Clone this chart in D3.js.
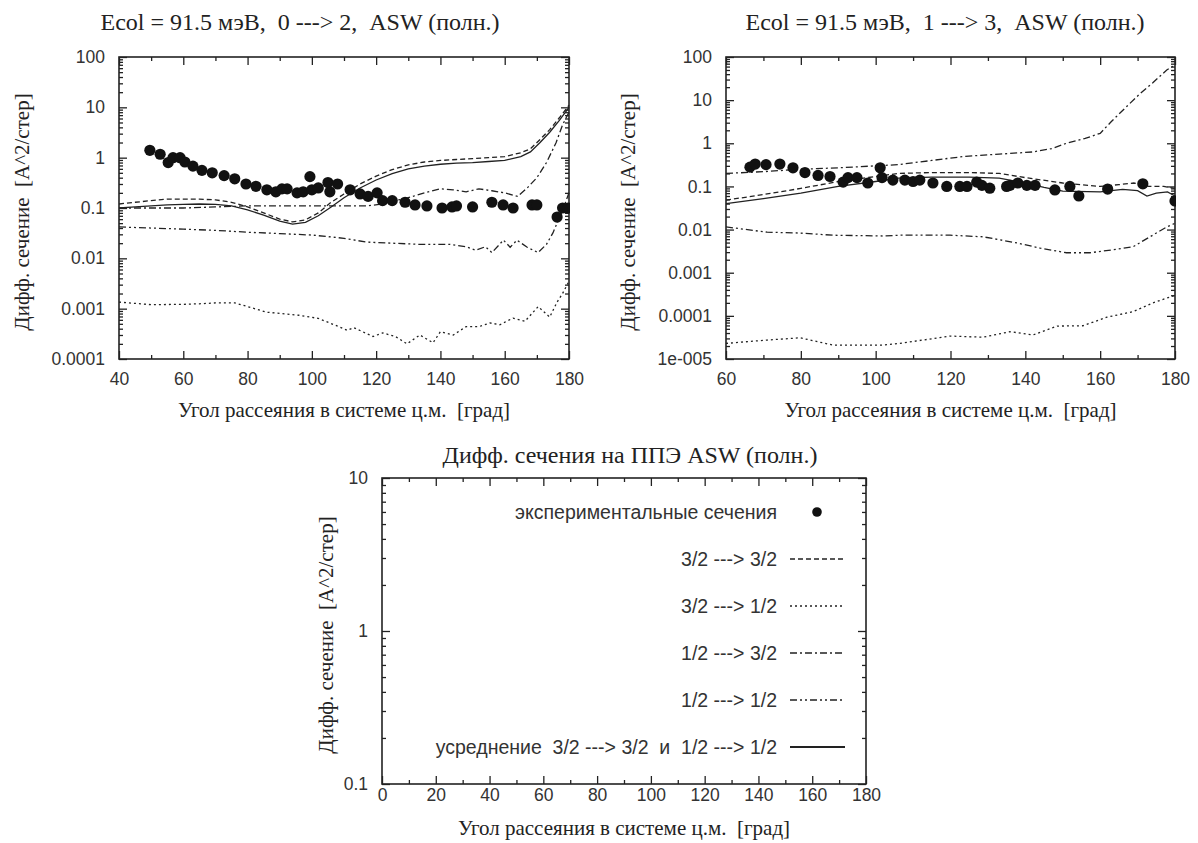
<!DOCTYPE html>
<html>
<head>
<meta charset="utf-8">
<script src="https://cdn.jsdelivr.net/npm/d3@7"></script>
<style>
  body { margin: 0; background: #fff; }
  text { white-space: pre; }
  .tick text { font-family: "Liberation Sans", Arial, sans-serif; font-size: 17.5px; fill: #333; }
  .tick line { stroke: #222; }
  .domain { display: none; }
  .serif { font-family: "Liberation Serif", "Times New Roman", serif; fill: #222; }
</style>
</head>
<body>
<div id="viz"></div>
<script>
// ---------- data: panel 1 (0 ---> 2), x 40..180 ----------
var p1Title = "Ecol = 91.5 мэВ,  0 ---> 2,  ASW (полн.)";
var p1XTicks = [40, 60, 80, 100, 120, 140, 160, 180];
var p1YTicks = [0.0001, 0.001, 0.01, 0.1, 1, 10, 100];
var p1YLabels = ["0.0001", "0.001", "0.01", "0.1", "1", "10", "100"];
var p1Exp = [[49.6,1.4],[52.8,1.17],[55.3,0.8],[56.8,1.0],[59,1.0],[60.5,0.82],[63,0.68],[65.8,0.56],[69,0.5],
  [72.7,0.44],[76,0.38],[79.5,0.3],[82.6,0.27],[86,0.23],[88.8,0.21],[90.7,0.24],[92.3,0.24],[95.4,0.2],
  [97.3,0.21],[99.4,0.42],[100,0.23],[102,0.25],[105,0.32],[105.6,0.21],[108,0.3],[111.9,0.23],[115,0.19],
  [117.5,0.17],[120.3,0.2],[122,0.14],[125,0.14],[129,0.13],[132.1,0.115],[135.8,0.11],[140.5,0.1],
  [143.6,0.105],[145,0.11],[150,0.105],[156,0.13],[159.5,0.115],[162.6,0.1],[168.5,0.115],[170,0.115],
  [176.3,0.066],[178,0.1],[179.7,0.1]];
var p1_32_32 = [[40,0.12],[45,0.13],[50,0.14],[55,0.15],[60,0.15],[65,0.15],[70,0.145],[75,0.13],[80,0.105],
  [85,0.08],[90,0.06],[94,0.053],[98,0.058],[102,0.08],[106,0.13],[110,0.19],[115,0.3],[120,0.43],[125,0.58],
  [130,0.72],[135,0.82],[140,0.88],[145,0.92],[150,0.96],[155,1.0],[160,1.05],[165,1.25],[168,1.5],[171,2.3],
  [174,3.6],[177,6.2],[180,11]];
var p1_32_12 = [[40,0.00135],[50,0.0012],[60,0.00122],[65,0.00125],[70,0.0013],[76,0.0013],[80,0.0011],[86,0.00085],
  [96,0.00074],[102,0.00064],[108,0.00045],[111,0.00037],[113,0.00042],[119,0.00028],[122,0.00033],[126,0.00028],
  [129.6,0.0002],[133.6,0.0003],[137.7,0.00021],[140,0.00035],[144,0.0003],[148,0.00044],[152,0.00044],
  [155.4,0.00052],[158.5,0.00048],[162.6,0.00065],[166.3,0.00056],[170.4,0.0011],[174,0.00068],[176.3,0.00135],
  [178,0.002],[180,0.0035]];
var p1_12_32 = [[40,0.1],[50,0.1],[60,0.1],[70,0.105],[80,0.11],[90,0.11],[100,0.11],[110,0.11],[117,0.11],
  [122,0.12],[126,0.14],[130,0.16],[135,0.2],[140,0.24],[144,0.23],[148,0.21],[152,0.24],[156,0.22],[160,0.2],
  [164,0.17],[167,0.25],[170,0.4],[173,0.8],[176,2],[178,4.5],[180,8]];
var p1_12_12 = [[40,0.042],[50,0.04],[60,0.038],[70,0.036],[80,0.033],[90,0.031],[100,0.029],[110,0.025],
  [117,0.021],[125,0.02],[133,0.019],[143,0.019],[148,0.017],[151,0.0145],[154,0.017],[156,0.013],[159.6,0.023],
  [161.7,0.0166],[163.8,0.023],[167,0.0166],[170.4,0.013],[173,0.019],[175,0.032],[178,0.09],[180,0.2]];
var p1Avg = [[40,0.1],[45,0.105],[50,0.11],[55,0.115],[60,0.118],[65,0.12],[70,0.118],[75,0.11],[80,0.092],
  [85,0.072],[90,0.055],[94,0.048],[98,0.052],[102,0.07],[106,0.105],[110,0.16],[115,0.25],[120,0.36],[125,0.48],
  [130,0.6],[135,0.68],[140,0.74],[145,0.78],[150,0.8],[155,0.84],[160,0.88],[165,1.05],[168,1.3],[171,2.0],
  [174,3.2],[177,5.5],[180,10]];

// ---------- data: panel 2 (1 ---> 3), x 60..180 ----------
var p2Title = "Ecol = 91.5 мэВ,  1 ---> 3,  ASW (полн.)";
var p2XTicks = [60, 80, 100, 120, 140, 160, 180];
var p2YTicks = [0.00001, 0.0001, 0.001, 0.01, 0.1, 1, 10, 100];
var p2YLabels = ["1e-005", "0.0001", "0.001", "0.01", "0.1", "1", "10", "100"];
var p2Exp = [[66.4,0.28],[67.8,0.33],[70.7,0.32],[74.4,0.33],[77.9,0.27],[81.1,0.21],[84.6,0.18],[87.8,0.17],
  [91.3,0.126],[92.6,0.16],[95,0.16],[97.9,0.12],[101.2,0.27],[101.7,0.16],[104.6,0.14],[107.8,0.14],[110,0.13],
  [111.8,0.14],[115.3,0.12],[119,0.1],[122.5,0.1],[124.4,0.1],[127,0.126],[128.4,0.106],[130.5,0.091],[135,0.1],
  [135.9,0.106],[138,0.12],[140.4,0.106],[142.6,0.106],[147.9,0.083],[151.9,0.1],[154.3,0.06],[162,0.087],
  [171.4,0.115],[180,0.046]];
var p2_32_32 = [[60,0.048],[70,0.065],[80,0.09],[90,0.13],[100,0.17],[106,0.2],[115,0.21],[125,0.21],[133,0.2],
  [140,0.16],[150,0.12],[160,0.1],[165,0.11],[169,0.12],[173,0.1],[177,0.1],[180,0.09]];
var p2_32_12 = [[60,2.3e-5],[71,2.75e-5],[79.8,3.1e-5],[88.6,2.1e-5],[102,2.1e-5],[106.5,2.3e-5],[119.9,3.4e-5],
  [128.7,3.2e-5],[135.9,4.3e-5],[142,3.6e-5],[148.5,5.8e-5],[155.4,5.9e-5],[161.8,9.3e-5],[168.8,1.25e-4],
  [174.1,2e-4],[180,3e-4]];
var p2_12_32 = [[60,0.2],[70,0.22],[80,0.25],[90,0.27],[100,0.3],[106,0.32],[115,0.4],[124,0.5],[133,0.56],
  [142,0.63],[147,0.75],[151,1.0],[156,1.3],[160,1.7],[163,3.2],[167,7],[170.6,14],[174,25],[177.8,50],[180,65]];
var p2_12_12 = [[60,0.0115],[71,0.0087],[79.8,0.0083],[88.6,0.0074],[102,0.0071],[106.5,0.0074],[119.9,0.0074],
  [128.7,0.0068],[137.8,0.0049],[144,0.0037],[151,0.0029],[157.3,0.0029],[163.4,0.0034],[168.8,0.004],
  [173.3,0.0068],[177.8,0.0115],[180,0.014]];
var p2Avg = [[60,0.04],[70,0.052],[80,0.07],[90,0.1],[100,0.13],[106,0.155],[115,0.165],[125,0.165],[133,0.155],
  [140,0.12],[145,0.095],[150,0.078],[160,0.075],[166,0.085],[170,0.08],[172.5,0.06],[175,0.07],[178,0.075],[180,0.06]];

// ---------- panel 3 (legend only) ----------
var p3Title = "Дифф. сечения на ППЭ ASW (полн.)";
var p3XTicks = [0, 20, 40, 60, 80, 100, 120, 140, 160, 180];
var p3YTicks = [0.1, 1, 10];
var p3YLabels = ["0.1", "1", "10"];
var legendLabels = ["экспериментальные сечения", "3/2 ---> 3/2", "3/2 ---> 1/2", "1/2 ---> 3/2",
  "1/2 ---> 1/2", "усреднение  3/2 ---> 3/2  и  1/2 ---> 1/2"];

var xLabel = "Угол рассеяния в системе ц.м.  [град]";
var yLabel = "Дифф. сечение  [A^2/стер]";

var styles = {
  s32_32: "5,3",
  s32_12: "2,3",
  s12_32: "7,3,2,3",
  s12_12: "7,3,2,3,2,3",
  avg: null
};

var svg = d3.select("#viz").append("svg").attr("width", 1198).attr("height", 843);

function panel(cfg) {
  var x = d3.scaleLinear().domain(cfg.xdom).range([cfg.left, cfg.right]);
  var y = d3.scaleLog().domain(cfg.ydom).range([cfg.bottom, cfg.top]);
  var g = svg.append("g");

  // minor / major ticks, all four sides, pointing inward
  var minorX = d3.range(cfg.xdom[0] + 10, cfg.xdom[1], 20);
  var minorY = [];
  cfg.yticks.slice(0, -1).forEach(function (v) {
    for (var k = 2; k < 10; k++) minorY.push(v * k);
  });
  var fmt = function (d, i) { return cfg.ylabels[i]; };

  g.append("g").attr("transform", "translate(0," + cfg.bottom + ")")
    .call(d3.axisBottom(x).tickValues(cfg.xticks).tickSize(-8).tickPadding(cfg.xpad).tickFormat(d3.format("d")));
  g.append("g").attr("transform", "translate(0," + cfg.bottom + ")")
    .call(d3.axisBottom(x).tickValues(minorX).tickSize(-4).tickFormat(""));
  g.append("g").attr("transform", "translate(0," + cfg.top + ")")
    .call(d3.axisTop(x).tickValues(cfg.xticks).tickSize(-8).tickFormat(""));
  g.append("g").attr("transform", "translate(0," + cfg.top + ")")
    .call(d3.axisTop(x).tickValues(minorX).tickSize(-4).tickFormat(""));
  g.append("g").attr("transform", "translate(" + cfg.left + ",0)")
    .call(d3.axisLeft(y).tickValues(cfg.yticks).tickSize(-8).tickPadding(14).tickFormat(fmt));
  g.append("g").attr("transform", "translate(" + cfg.left + ",0)")
    .call(d3.axisLeft(y).tickValues(minorY).tickSize(-4).tickFormat(""));
  g.append("g").attr("transform", "translate(" + cfg.right + ",0)")
    .call(d3.axisRight(y).tickValues(cfg.yticks).tickSize(-8).tickFormat(""));
  g.append("g").attr("transform", "translate(" + cfg.right + ",0)")
    .call(d3.axisRight(y).tickValues(minorY).tickSize(-4).tickFormat(""));
  g.selectAll(".tick line").attr("stroke-width", 1.3);

  g.append("rect")
    .attr("x", cfg.left).attr("y", cfg.top)
    .attr("width", cfg.right - cfg.left).attr("height", cfg.bottom - cfg.top)
    .attr("fill", "none").attr("stroke", "#222").attr("stroke-width", 1.6);

  var clipId = "clip" + cfg.id;
  svg.append("clipPath").attr("id", clipId).append("rect")
    .attr("x", cfg.left).attr("y", cfg.top - 2)
    .attr("width", cfg.right - cfg.left + 1).attr("height", cfg.bottom - cfg.top + 2);

  var line = d3.line()
    .x(function (d) { return x(d[0]); })
    .y(function (d) { return y(d[1]); });

  var plot = g.append("g").attr("clip-path", "url(#" + clipId + ")");
  (cfg.series || []).forEach(function (s) {
    plot.append("path")
      .datum(s.data)
      .attr("d", line)
      .attr("fill", "none")
      .attr("stroke", "#222")
      .attr("stroke-width", 1.3)
      .attr("stroke-dasharray", s.dash);
  });
  if (cfg.points) {
    plot.selectAll(".pt").data(cfg.points).enter()
      .append("circle")
      .attr("class", "pt")
      .attr("cx", function (d) { return x(d[0]); })
      .attr("cy", function (d) { return y(d[1]); })
      .attr("r", 5.6)
      .attr("fill", "#111");
  }

  //titles and axis labels
  svg.append("text").attr("class", "serif")
    .attr("x", cfg.titleX).attr("y", cfg.titleY)
    .attr("text-anchor", "middle").style("font-size", "24px")
    .text(cfg.title);
  svg.append("text").attr("class", "serif")
    .attr("x", (cfg.left + cfg.right) / 2).attr("y", cfg.xlabY)
    .attr("text-anchor", "middle").style("font-size", "21px")
    .text(xLabel);
  svg.append("text").attr("class", "serif")
    .attr("transform", "translate(" + cfg.ylabX + "," + ((cfg.top + cfg.bottom) / 2 + 4) + ") rotate(-90)")
    .attr("text-anchor", "middle").attr("dy", "0.35em").style("font-size", "21px")
    .text(yLabel);

  return { x: x, y: y, g: g };
}

function seriesOf(a, b, c, d, e) {
  return [
    { data: a, dash: styles.s32_32 },
    { data: b, dash: styles.s32_12 },
    { data: c, dash: styles.s12_32 },
    { data: d, dash: styles.s12_12 },
    { data: e, dash: styles.avg }
  ];
}

panel({
  id: 1, left: 119, right: 569, top: 57, bottom: 359,
  xdom: [40, 180], ydom: [0.0001, 100], xticks: p1XTicks, yticks: p1YTicks, ylabels: p1YLabels,
  title: p1Title, titleX: 300, titleY: 30, ylabX: 22, xlabY: 417, xpad: 14,
  series: seriesOf(p1_32_32, p1_32_12, p1_12_32, p1_12_12, p1Avg), points: p1Exp
});

panel({
  id: 2, left: 726, right: 1175, top: 57, bottom: 359,
  xdom: [60, 180], ydom: [0.00001, 100], xticks: p2XTicks, yticks: p2YTicks, ylabels: p2YLabels,
  title: p2Title, titleX: 945, titleY: 30, ylabX: 628, xlabY: 417, xpad: 14,
  series: seriesOf(p2_32_32, p2_32_12, p2_12_32, p2_12_12, p2Avg), points: p2Exp
});

panel({
  id: 3, left: 382, right: 866, top: 478, bottom: 784,
  xdom: [0, 180], ydom: [0.1, 10], xticks: p3XTicks, yticks: p3YTicks, ylabels: p3YLabels,
  title: p3Title, titleX: 630, titleY: 463, ylabX: 326, xlabY: 835, xpad: 5
});

// legend of panel 3
var legendDash = [null, styles.s32_32, styles.s32_12, styles.s12_32, styles.s12_12, styles.avg];
var leg = svg.append("g");
legendLabels.forEach(function (lab, i) {
  var yy = 512 + i * 47;
  leg.append("text")
    .attr("x", 777).attr("y", yy).attr("dy", "0.35em")
    .attr("text-anchor", "end")
    .style("font-family", "'Liberation Sans', Arial, sans-serif")
    .style("font-size", "19.5px").style("fill", "#333")
    .text(lab);
  if (i === 0) {
    leg.append("circle").attr("cx", 817).attr("cy", yy).attr("r", 4.8).attr("fill", "#111");
  } else {
    leg.append("line")
      .attr("x1", 790).attr("x2", 845).attr("y1", yy).attr("y2", yy)
      .attr("stroke", "#222").attr("stroke-width", i === 5 ? 1.8 : 1.3)
      .attr("stroke-dasharray", legendDash[i]);
  }
});
</script>
</body>
</html>
